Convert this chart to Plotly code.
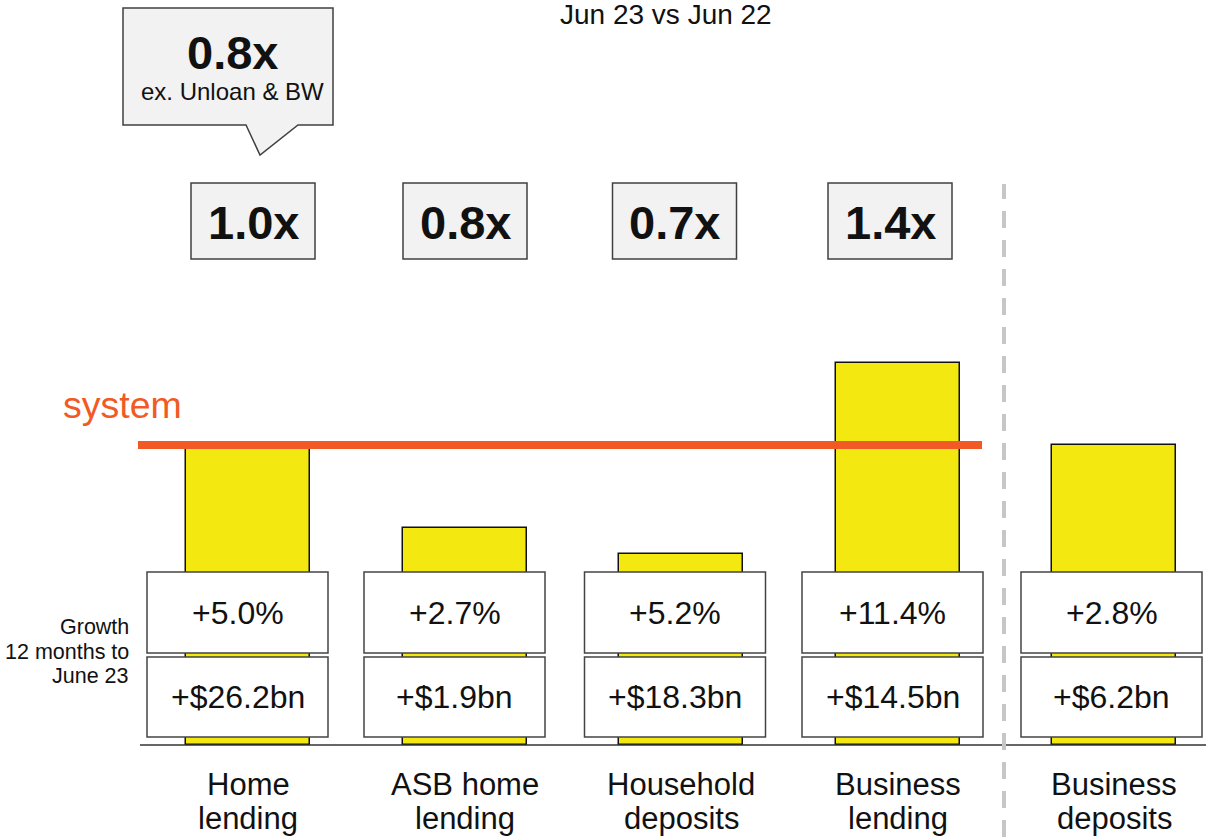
import plotly.graph_objects as go

# ---------------- data ----------------
categories = ["Home<br>lending", "ASB home<br>lending", "Household<br>deposits",
              "Business<br>lending", "Business<br>deposits"]
bar_values = [1.0, 0.723, 0.637, 1.273, 1.0]          # relative bar heights (system = 1.0)
system_level = 1.0
growth_pct = ["+5.0%", "+2.7%", "+5.2%", "+11.4%", "+2.8%"]
growth_bn = ["+$26.2bn", "+$1.9bn", "+$18.3bn", "+$14.5bn", "+$6.2bn"]
multiples = ["1.0x", "0.8x", "0.7x", "1.4x"]
callout_main = "0.8x"
callout_sub = "ex. Unloan & BW"
title_text = "Jun 23 vs Jun 22"
side_label = "Growth<br>12 months to<br>June 23"

# ---------------- geometry helpers (layout only) ----------------
W, H = 1206, 837
X0PX, XSTEP = 248.0, 216.5      # pixel centre of first category, spacing
Y0PX, YSCALE = 745.0, 300.0     # pixel of baseline, pixels per unit


def px2x(px):
    return (px - X0PX) / XSTEP


def py2y(py):
    return (Y0PX - py) / YSCALE


YELLOW = "#F3E80F"
ORANGE = "#F15A24"
FONT = "Liberation Sans, Arial, sans-serif"
TXT = "#111111"

xs = list(range(len(categories)))

fig = go.Figure()
fig.add_trace(go.Bar(
    x=xs, y=bar_values, width=124 / XSTEP,
    marker=dict(color=YELLOW, line=dict(color="#111111", width=1.5)),
    hoverinfo="skip", showlegend=False,
))

shapes = []
annotations = []


def note(text, x, y, size, color=TXT, xanchor="center", yanchor="middle", align="center"):
    annotations.append(dict(text=text, xref="x", yref="y", x=x, y=y, showarrow=False,
                            xanchor=xanchor, yanchor=yanchor, align=align,
                            font=dict(family=FONT, size=size, color=color)))


# baseline
shapes.append(dict(type="line", xref="x", yref="y", x0=px2x(140), x1=px2x(1206),
                   y0=0, y1=0, line=dict(color="#333333", width=1.5)))

# system line
shapes.append(dict(type="line", xref="x", yref="y", x0=px2x(138), x1=px2x(982),
                   y0=system_level, y1=system_level, line=dict(color=ORANGE, width=8),
                   layer="above"))
note("system", px2x(122), py2y(405), 37.5, color=ORANGE)

# dashed separator
shapes.append(dict(type="line", xref="x", yref="paper", x0=px2x(1004), x1=px2x(1004),
                   y0=0, y1=(H - 184) / H,
                   line=dict(color="#C6C6C6", width=4, dash="17px,12px")))

# growth label boxes
box_shift_px = [-10.5, -10, -6, -5, -2.5]
box_half = 90.5
row1 = (py2y(572), py2y(653))
row2 = (py2y(657), py2y(737))
for i in xs:
    cx = i + box_shift_px[i] / XSTEP
    for (ytop, ybot), txt in ((row1, growth_pct[i]), (row2, growth_bn[i])):
        shapes.append(dict(type="rect", xref="x", yref="y",
                           x0=cx - box_half / XSTEP, x1=cx + box_half / XSTEP,
                           y0=ybot, y1=ytop, fillcolor="white",
                           line=dict(color="#444444", width=1.5), layer="above"))
        note(txt, cx, (ytop + ybot) / 2, 32)

# multiple boxes
mult_shift_px = [5, 0.5, -6.5, -7.5]
for i, m in enumerate(multiples):
    cx = i + mult_shift_px[i] / XSTEP
    shapes.append(dict(type="rect", xref="x", yref="y",
                       x0=cx - 62 / XSTEP, x1=cx + 62 / XSTEP,
                       y0=py2y(259), y1=py2y(183), fillcolor="#F2F2F2",
                       line=dict(color="#404040", width=1.5), layer="above"))
    note("<b>" + m + "</b>", cx, py2y(222), 47)

# callout bubble
pts = [(123, 8), (333, 8), (333, 125), (298, 125), (260, 155), (246, 125), (123, 125)]
path = "M " + " L ".join(f"{px2x(a):.5f},{py2y(b):.5f}" for a, b in pts) + " Z"
shapes.append(dict(type="path", xref="x", yref="y", path=path, fillcolor="#F2F2F2",
                   line=dict(color="#404040", width=1.5), layer="above"))
note("<b>" + callout_main + "</b>", px2x(232), py2y(52), 47)
note(callout_sub, px2x(232), py2y(91), 24)

# title
note(title_text, px2x(666), py2y(14), 28)

# side label (one line each)
for k, line in enumerate(side_label.split("<br>")):
    note(line, px2x(131), py2y(627 + 24.5 * k), 21.5, xanchor="right", align="right")

# category labels (one line each)
for i, c in enumerate(categories):
    for k, line in enumerate(c.split("<br>")):
        note(line, i, py2y(784 + 34 * k), 31)

fig.update_layout(
    width=W, height=H,
    margin=dict(l=0, r=0, t=0, b=0),
    paper_bgcolor="white", plot_bgcolor="white",
    xaxis=dict(range=[px2x(0), px2x(W)], visible=False, fixedrange=True),
    yaxis=dict(range=[py2y(H), py2y(0)], visible=False, fixedrange=True),
    shapes=shapes, annotations=annotations,
    bargap=0, showlegend=False,
)

fig.write_html("out.html", config={"displayModeBar": False},
               post_script="document.body.style.margin='0';")
